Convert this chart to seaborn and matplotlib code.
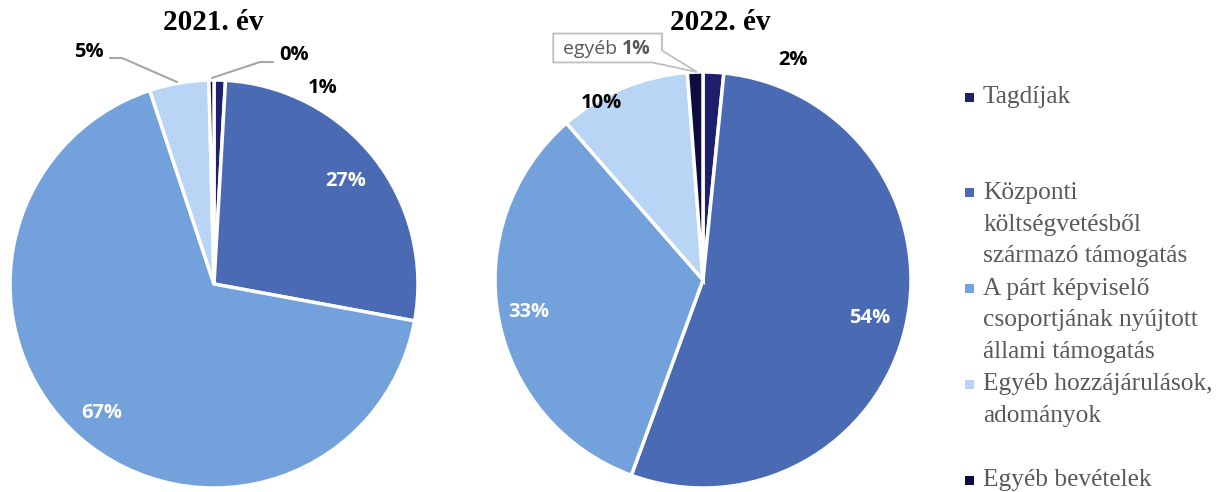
import numpy as np
import seaborn as sns
import matplotlib.pyplot as plt
from matplotlib.patches import Rectangle, Polygon

# data
categories = [
    "Tagdíjak",
    "Központi\nköltségvetésből\nszármazó támogatás",
    "A párt képviselő\ncsoportjának nyújtott\nállami támogatás",
    "Egyéb hozzájárulások,\nadományok",
    "Egyéb bevételek",
]
years = ["2021. év", "2022. év"]
share_2021 = [0.9, 27.0, 67.0, 4.7, 0.4]
share_2022 = [1.6, 54.0, 33.0, 10.2, 1.2]
labels_2021 = ["1%", "27%", "67%", "5%", "0%"]
labels_2022 = ["2%", "54%", "33%", "10%", "1%"]

sns.set_theme(style="white")
palette = sns.color_palette(["#1F1F6E", "#4A6BB3", "#72A1DC", "#B9D5F5", "#0C0C3E"])

fig = plt.figure(figsize=(12.23, 4.92), dpi=100)
W, H = 1223, 492


def px_axes(left, top, size):
    return fig.add_axes([left / W, 1 - (top + size) / H, size / W, size / H])


ax1 = px_axes(10, 80, 408)
ax2 = px_axes(495, 72, 416)

pct_font = dict(family="Open Sans", fontweight="bold", fontsize=14.5)
gray = "#595959"
line_gray = "#A6A6A6"


def draw_pie(ax, values):
    wedges, _ = ax.pie(values, colors=palette, startangle=90, counterclock=False,
                       wedgeprops=dict(edgecolor="white", linewidth=2.5))
    ax.set_xlim(-1, 1)
    ax.set_ylim(-1, 1)
    ax.set_aspect("equal")
    ax.axis("off")
    return wedges


def inside_label(ax, wedge, text, dist):
    ang = np.deg2rad((wedge.theta1 + wedge.theta2) / 2)
    ax.text(dist * np.cos(ang), dist * np.sin(ang), text, ha="center", va="center",
            color="white", **pct_font)


# 2021
w1 = draw_pie(ax1, share_2021)
inside_label(ax1, w1[1], labels_2021[1], 0.82)
inside_label(ax1, w1[2], labels_2021[2], 0.84)
ax1.text(0.534, 0.961, labels_2021[0], ha="center", va="center", color="black",
         clip_on=False, **pct_font)
ax1.text(-0.613, 1.137, labels_2021[3], ha="center", va="center", color="black",
         clip_on=False, **pct_font)
ax1.plot([-0.51, -0.451, -0.181], [1.108, 1.108, 0.99], color=line_gray, lw=1.5,
         clip_on=False)
ax1.text(0.392, 1.123, labels_2021[4], ha="center", va="center", color="black",
         clip_on=False, **pct_font)
ax1.plot([0.289, 0.225, -0.01], [1.088, 1.088, 1.01], color=line_gray, lw=1.5,
         clip_on=False)

# 2022
w2 = draw_pie(ax2, share_2022)
inside_label(ax2, w2[1], labels_2022[1], 0.82)
inside_label(ax2, w2[2], labels_2022[2], 0.85)
ax2.text(-0.49, 0.851, labels_2022[3], ha="center", va="center", color="black",
         clip_on=False, **pct_font)
ax2.text(0.433, 1.058, labels_2022[0], ha="center", va="center", color="black",
         clip_on=False, **pct_font)

# callout box for the small slice
callout = Polygon([(-0.72, 1.185), (-0.197, 1.185), (-0.197, 1.103), (-0.029, 1.0),
                   (-0.245, 1.046), (-0.72, 1.046)], closed=True, facecolor="white",
                  edgecolor="#BFBFBF", lw=1.3, clip_on=False, zorder=5)
ax2.add_patch(callout)
ax2.text(-0.39, 1.112, "egyéb ", ha="right", va="center", color=gray,
         family="Open Sans", fontsize=14, clip_on=False, zorder=6)
ax2.text(-0.39, 1.112, labels_2022[4], ha="left", va="center", color=gray,
         clip_on=False, zorder=6, family="Open Sans", fontweight="bold", fontsize=14)

# titles
for x_px, title in zip([213, 720], years):
    fig.text(x_px / W, 1 - 22 / H, title, ha="center", va="center",
             family="Liberation Serif", fontweight="bold", fontsize=21, color="black")

# legend
legend_y = np.linspace(97, 480, len(categories))
for y_px, cat, col in zip(legend_y, categories, palette):
    fig.patches.append(Rectangle((965 / W, 1 - (y_px + 4.5) / H), 9 / W, 9 / H,
                                 transform=fig.transFigure, facecolor=col,
                                 edgecolor="none"))
    fig.text(983 / W, 1 - (y_px - 11) / H, cat, ha="left", va="top",
             family="Liberation Serif", fontsize=18.3, color=gray, linespacing=1.58)

plt.savefig("out.png", dpi=100)
